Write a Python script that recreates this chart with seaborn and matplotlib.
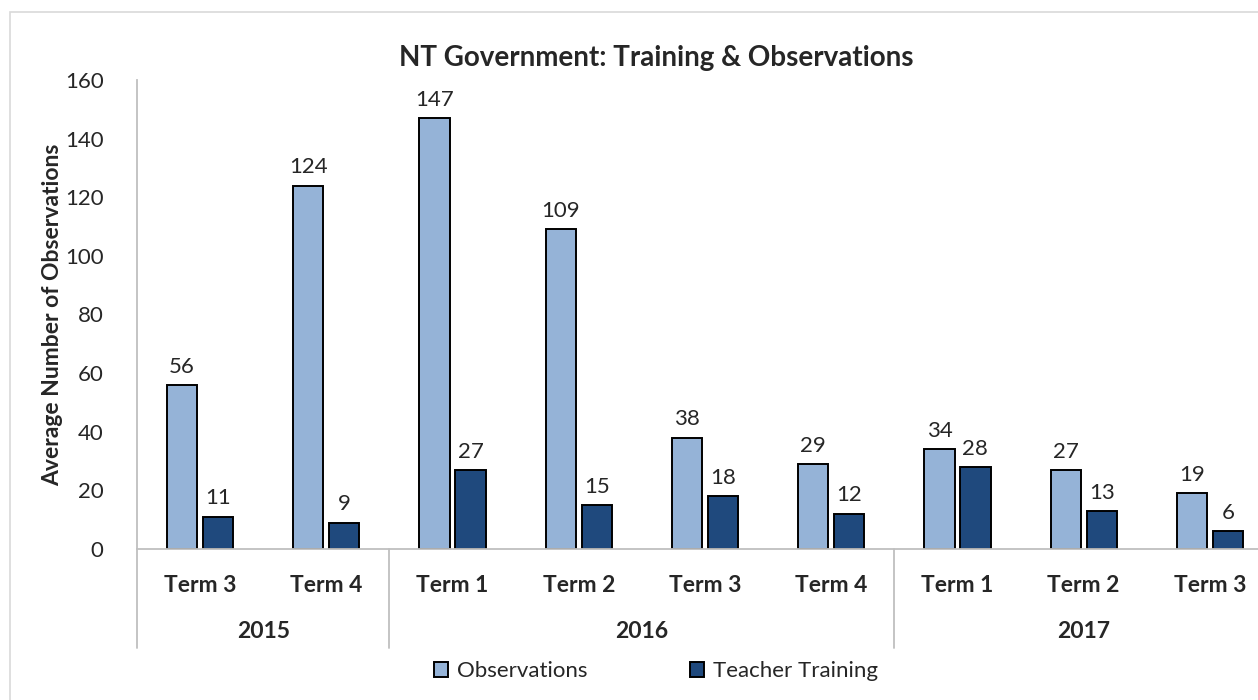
import numpy as np
import pandas as pd
from matplotlib import pyplot as plt
from matplotlib.patches import Rectangle
from matplotlib.transforms import blended_transform_factory
import seaborn as sns

terms = ['Term 3', 'Term 4', 'Term 1', 'Term 2', 'Term 3', 'Term 4', 'Term 1', 'Term 2', 'Term 3']
years = ['2015', '2015', '2016', '2016', '2016', '2016', '2017', '2017', '2017']
observations = [56, 124, 147, 109, 38, 29, 34, 27, 19]
training = [11, 9, 27, 15, 18, 12, 28, 13, 6]
series = ['Observations', 'Teacher Training']
colors = ['#95B3D7', '#1F497D']

periods = [y + ' ' + t for y, t in zip(years, terms)]
df = pd.DataFrame({
    'period': periods * 2,
    'series': [series[0]] * len(periods) + [series[1]] * len(periods),
    'value': observations + training,
})

sns.set_style('white')
plt.rcParams['font.family'] = ['Lato', 'DejaVu Sans']

fig = plt.figure(figsize=(12.58, 7), dpi=100)
ax = fig.add_axes([137 / 1258, 151 / 700, 1136 / 1258, 469 / 700])

sns.barplot(data=df, x='period', y='value', hue='series', order=periods,
            palette=colors, saturation=1, width=0.57, gap=0.16, edgecolor='black',
            linewidth=1.4, ax=ax, legend=False)

for c in ax.containers:
    ax.bar_label(c, padding=6, fontsize=16)

ax.set_xlim(-0.5, len(periods) - 0.5)
ax.set_ylim(0, 160)
ax.set_yticks(range(0, 161, 20))
ax.tick_params(axis='y', labelsize=16, length=0, pad=24)
ax.set_xticks(range(len(periods)))
ax.set_xticklabels(terms, fontsize=16.5, fontweight='bold')
ax.tick_params(axis='x', length=0, pad=19)
ax.set_xlabel('')
ax.set_ylabel('Average Number of Observations', fontsize=16.5, fontweight='bold', labelpad=1)

for s in ['top', 'right']:
    ax.spines[s].set_visible(False)
for s in ['left', 'bottom']:
    ax.spines[s].set_color('#BFBFBF')
    ax.spines[s].set_linewidth(1.3)

# year group level under the terms
trans = blended_transform_factory(ax.transData, ax.transAxes)
ybot = -99 / 469
for xs in [-0.5, 1.5, 5.5]:
    ax.plot([xs, xs], [0, ybot], transform=trans, color='#BFBFBF', lw=1.3, clip_on=False)
groups = pd.Series(range(len(years))).groupby(years).mean()
for yr, xc in groups.items():
    ax.text(xc, -83 / 469, yr, transform=trans, ha='center', va='center',
            fontsize=16.5, fontweight='bold')

fig.text(656 / 1258, 1 - 58 / 700, 'NT Government: Training & Observations',
         ha='center', va='center', fontsize=20, fontweight='bold')

handles = [Rectangle((0, 0), 1, 1, facecolor=c, edgecolor='black', lw=1.4) for c in colors]
fig.legend(handles, series, loc='center', bbox_to_anchor=(656 / 1258, 1 - 671 / 700),
           ncol=2, frameon=False, fontsize=16, handlelength=0.65, handleheight=0.65,
           handletextpad=0.4, columnspacing=4.6)

fig.patches.append(Rectangle((10 / 1258, -0.1), 1.2, 1 - 12 / 700 + 0.1, transform=fig.transFigure,
                             fill=False, edgecolor='#D9D9D9', lw=1.2))

fig.savefig('out.png', dpi=100)
